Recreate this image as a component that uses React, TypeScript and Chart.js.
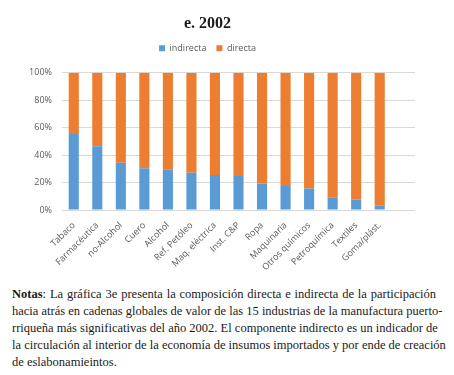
import React, { useEffect, useRef } from "react";
import { Chart, registerables } from "chart.js";

Chart.register(...registerables);

const title = "e. 2002";
const categories = [
  "Tabaco",
  "Farmacéutica",
  "no-Alcohol",
  "Cuero",
  "Alcohol",
  "Ref. Petóleo",
  "Maq. eléctrica",
  "Inst. C&P",
  "Ropa",
  "Maquinaria",
  "Otros químicos",
  "Petroquímica",
  "Textiles",
  "Goma/plást.",
  "",
];
const indirecta = [55.4, 46.5, 34.5, 30.4, 29.6, 27.2, 25.5, 24.8, 19.3, 17.4, 15.7, 9.2, 7.7, 3.1, null];
const directa = indirecta.map((v) => (v === null ? null : 100 - v));
const yTicks = [0, 10, 20, 30, 40, 50, 60, 70, 80, 90, 100];

const notesLines = [
  "La gráfica 3e presenta la composición directa e indirecta de la participación",
  "hacia atrás en cadenas globales de valor de las 15 industrias de la manufactura puerto-",
  "rriqueña más significativas del año 2002. El componente indirecto es un indicador de",
  "la circulación al interior de la economía de insumos importados y por ende de creación",
  "de eslabonamieintos.",
];

const legendSpace = {
  id: "legendSpace",
  beforeInit(chart: any) {
    const orig = chart.legend.fit;
    chart.legend.fit = function () {
      orig.call(this);
      this.height += 10;
    };
  },
};

export default function App() {
  const ref = useRef<HTMLCanvasElement>(null);
  useEffect(() => {
    if (!ref.current) return;
    const chart = new Chart(ref.current, {
      type: "bar",
      data: {
        labels: categories,
        datasets: [
          {
            label: "indirecta",
            data: indirecta,
            backgroundColor: "#5b9bd5",
            barPercentage: 0.43,
            categoryPercentage: 1,
          },
          {
            label: "directa",
            data: directa,
            backgroundColor: "#ed7d31",
            barPercentage: 0.43,
            categoryPercentage: 1,
          },
        ],
      },
      plugins: [legendSpace],
      options: {
        animation: false,
        responsive: false,
        maintainAspectRatio: false,
        layout: { padding: { left: 0, right: 39, top: 0, bottom: 0 } },
        plugins: {
          title: {
            display: true,
            text: title,
            color: "#1a1a1a",
            font: { family: "Liberation Serif", size: 16, weight: "bold" },
            padding: { top: 14, bottom: 0.5 },
          },
          legend: {
            display: true,
            labels: {
              boxWidth: 6,
              boxHeight: 6,
              padding: 10,
              color: "#595959",
              font: { family: "Open Sans", size: 9 },
            },
          },
          tooltip: { enabled: false },
        },
        scales: {
          x: {
            stacked: true,
            grid: { display: false },
            border: { display: false },
            ticks: {
              color: "#595959",
              font: { family: "Open Sans", size: 9 },
              minRotation: 45,
              maxRotation: 45,
              autoSkip: false,
              padding: 2,
            },
            afterFit: (s: any) => {
              s.height = 70;
            },
          },
          y: {
            stacked: true,
            min: 0,
            max: 100,
            afterBuildTicks: (s: any) => {
              s.ticks = yTicks.map((v) => ({ value: v }));
            },
            grid: { color: "#d9d9d9", drawTicks: false },
            border: { display: false },
            ticks: {
              color: "#595959",
              font: { family: "Open Sans", size: 9 },
              padding: 10,
              callback: (v: any) => v + "%",
            },
            afterFit: (s: any) => {
              s.width = 62;
            },
          },
        },
      },
    });
    return () => chart.destroy();
  }, []);

  const lineStyle: React.CSSProperties = {
    textAlign: "justify",
    textAlignLast: "justify",
    whiteSpace: "nowrap",
    height: 17,
  };

  return (
    <div
      style={{
        position: "fixed",
        left: 0,
        top: 0,
        width: 454,
        height: 375,
        background: "#fff",
      }}
    >
      <canvas ref={ref} width={454} height={280} style={{ display: "block", width: 454, height: 280 }} />
      <div
        style={{
          position: "absolute",
          left: 12,
          top: 286,
          width: 424,
          fontFamily: "Liberation Serif",
          fontSize: 12.5,
          lineHeight: "17px",
          color: "#1a1a1a",
        }}
      >
        {notesLines.map((l, i) => (
          <div
            key={i}
            style={i === notesLines.length - 1 ? { ...lineStyle, textAlignLast: "left" } : lineStyle}
          >
            {i === 0 ? (
              <>
                <b>Notas</b>: {l}
              </>
            ) : (
              l
            )}
          </div>
        ))}
      </div>
    </div>
  );
}
